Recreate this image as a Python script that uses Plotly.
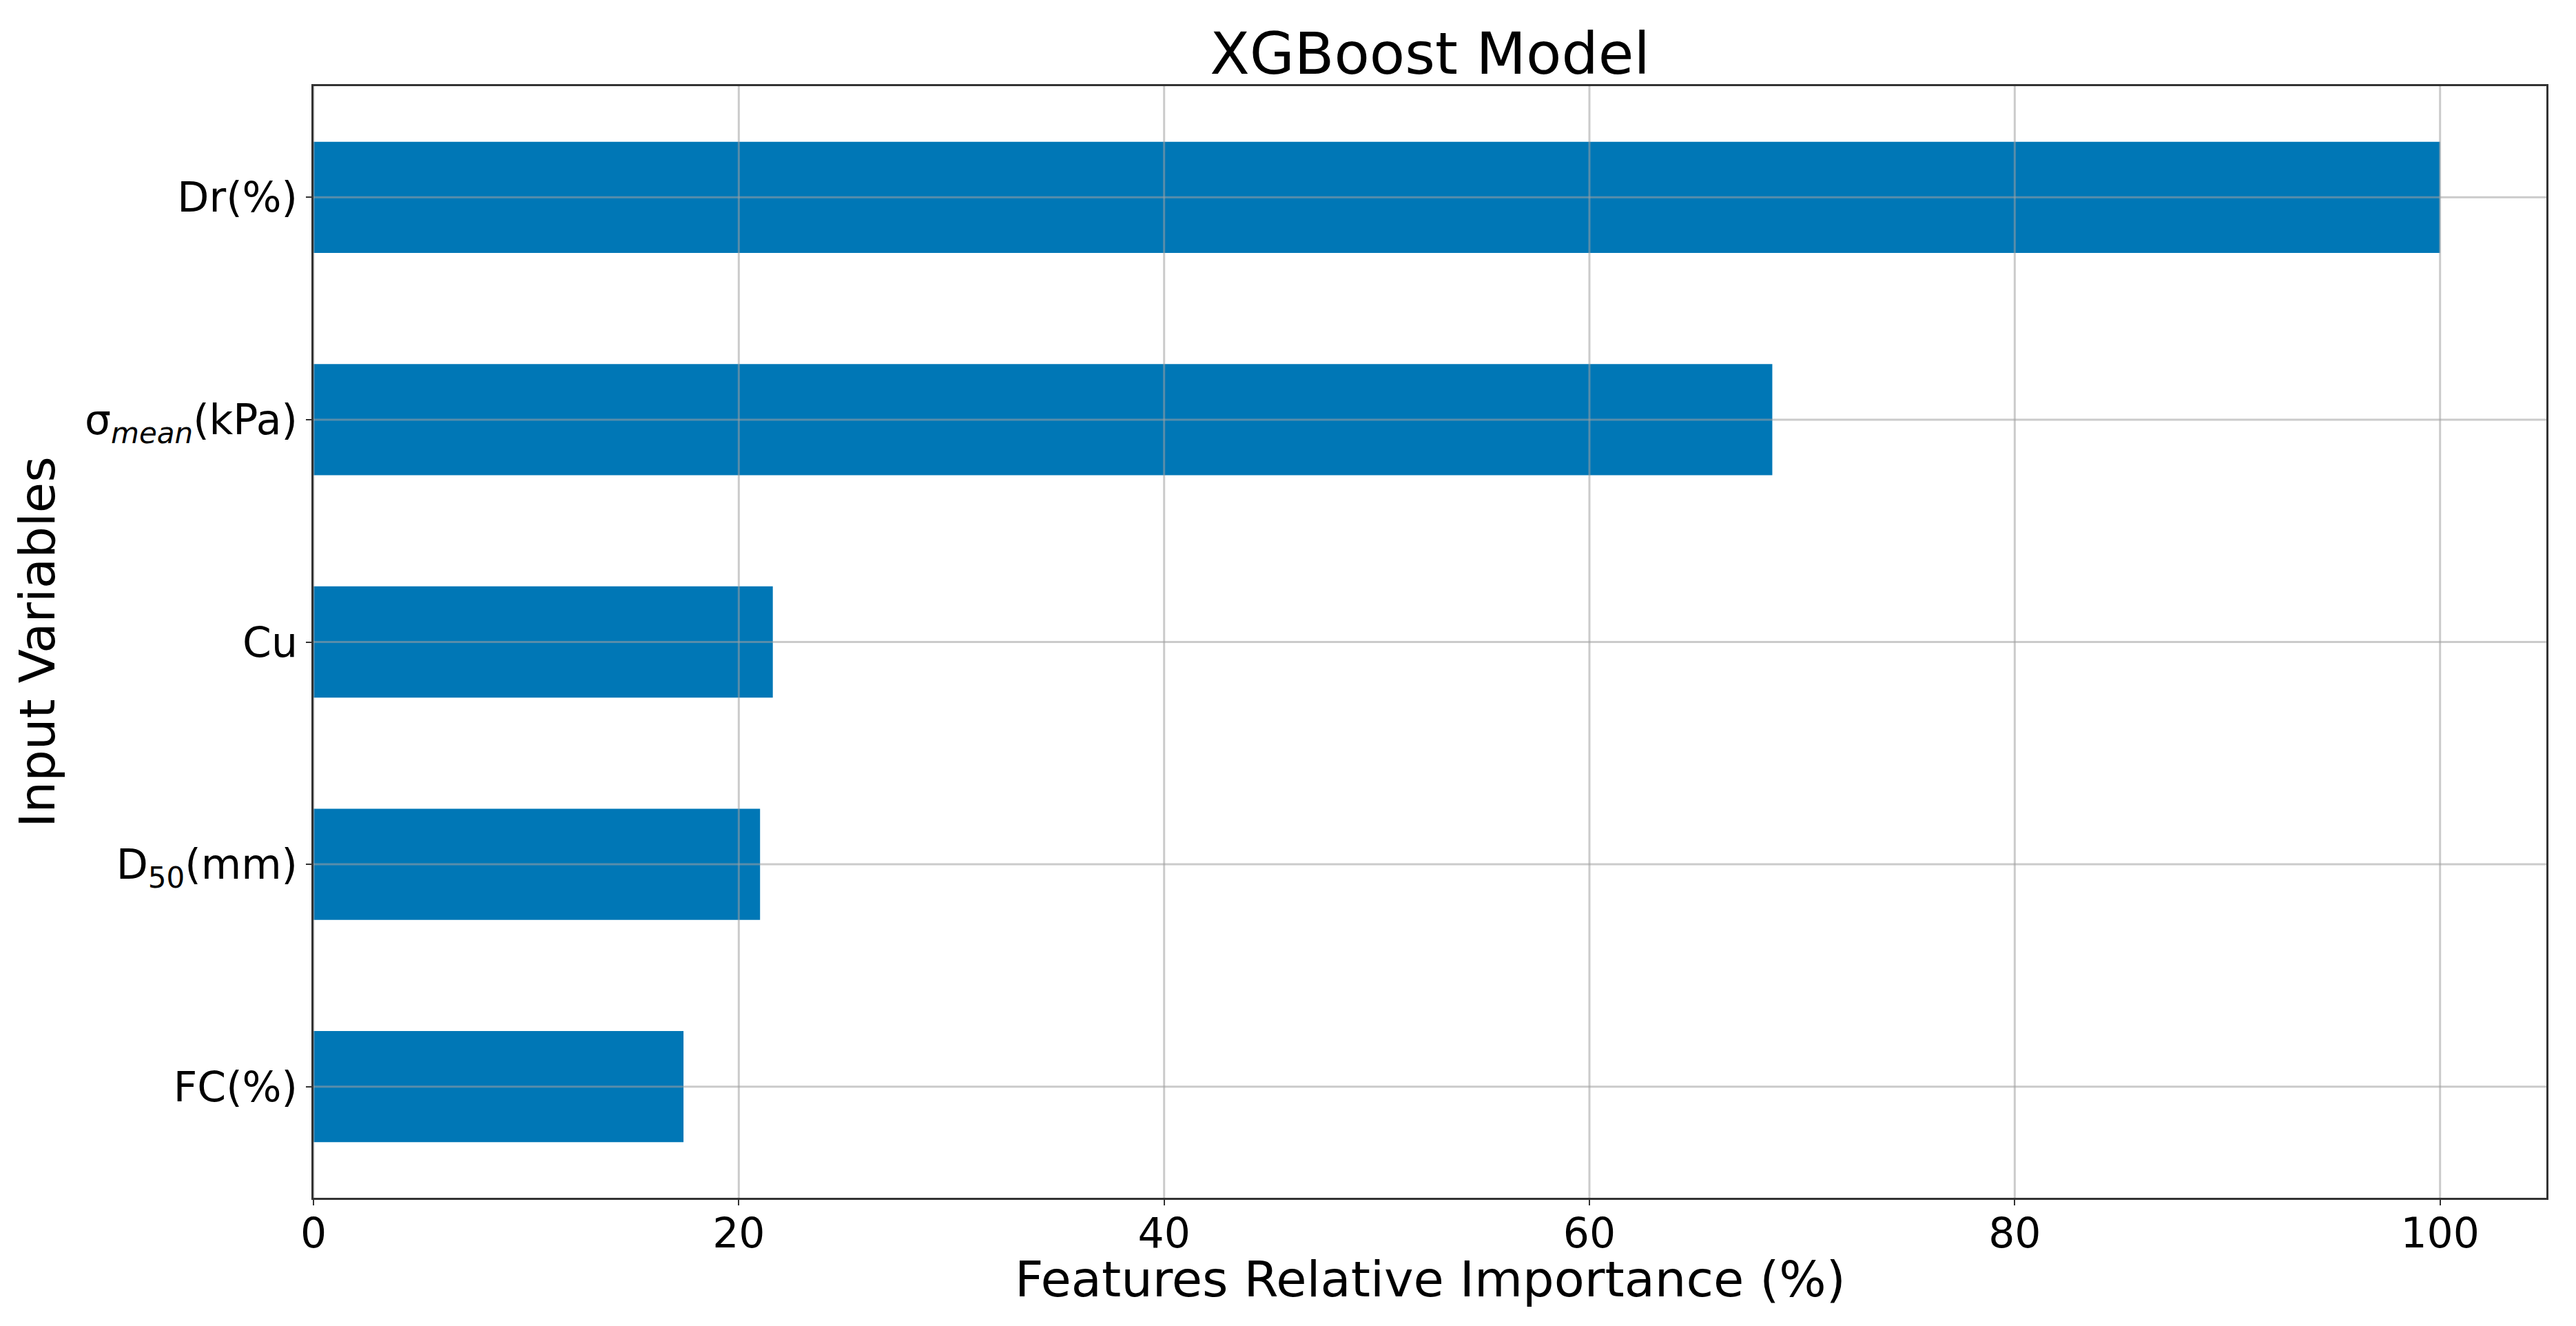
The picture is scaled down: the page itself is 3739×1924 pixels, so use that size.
import plotly.graph_objects as go

# Data (bottom to top as drawn)
categories = ["FC(%)", "D<sub>50</sub>(mm)", "Cu", "σ<sub><i>mean</i></sub>(kPa)", "Dr(%)"]
importance = [17.4, 21.0, 21.6, 68.6, 100.0]
x_ticks = [0, 20, 40, 60, 80, 100]

bar_color = "#0077b6"
grid_color = "rgba(160,160,160,0.55)"
font_family = "DejaVu Sans"

fig = go.Figure()
fig.add_trace(go.Bar(
    x=importance,
    y=categories,
    orientation="h",
    width=0.5,
    marker=dict(color=bar_color, line=dict(width=0)),
    showlegend=False,
))

# grid lines drawn above bars (as in the reference)
shapes = []
for t in x_ticks:
    shapes.append(dict(type="line", xref="x", yref="paper", x0=t, x1=t, y0=0, y1=1,
                       line=dict(color=grid_color, width=3), layer="above"))
for c in categories:
    shapes.append(dict(type="line", xref="paper", yref="y", x0=0, x1=1, y0=c, y1=c,
                       line=dict(color=grid_color, width=3), layer="above"))

W, H = 3731, 1916   # page body adds an 8px offset
ML, MR, MT, MB = 447, 43, 117, 186
plot_h = H - MT - MB

fig.update_layout(
    width=W, height=H,
    paper_bgcolor="white", plot_bgcolor="white",
    margin=dict(l=ML, r=MR, t=MT, b=MB, autoexpand=False),
    font=dict(family=font_family, color="black"),
    title=dict(text="XGBoost Model", font=dict(size=84, family=font_family, color="black"),
               x=0.5, xref="paper", xanchor="center",
               y=1 - 70 / H, yref="container", yanchor="middle"),
    shapes=shapes,
    annotations=[dict(text="Features Relative Importance (%)", xref="paper", yref="paper",
                      x=0.5, y=-(1856 - 1738) / plot_h, xanchor="center", yanchor="middle",
                      showarrow=False, font=dict(size=72, family=font_family, color="black"))],
)
fig.update_xaxes(
    range=[0, 105],
    tickvals=x_ticks,
    ticktext=[str(t) for t in x_ticks],
    tickfont=dict(size=60, family=font_family, color="black"),
    ticks="outside", ticklen=8, tickwidth=2, tickcolor="#333",
    ticklabelstandoff=-11,
    showgrid=False, zeroline=False,
    showline=True, linecolor="#333", linewidth=3, mirror=True,
)
fig.update_yaxes(
    range=[-0.5, 4.5],
    type="category",
    categoryorder="array", categoryarray=categories,
    tickfont=dict(size=60, family=font_family, color="black"),
    ticks="outside", ticklen=8, tickwidth=2, tickcolor="#333",
    showgrid=False, zeroline=False,
    showline=True, linecolor="#333", linewidth=3, mirror=True,
    title=dict(text="Input Variables",
               font=dict(size=72, family=font_family, color="black"), standoff=20),
)

fig.write_html("out.html")
